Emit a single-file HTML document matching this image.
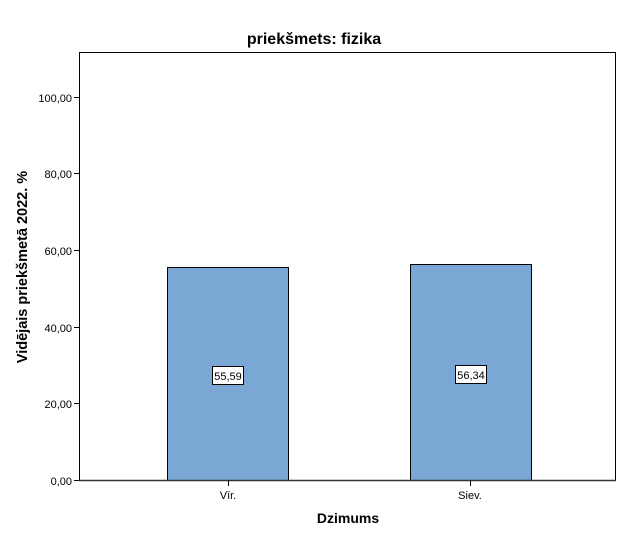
<!DOCTYPE html>
<html><head><style>body{margin:0;background:#fff}svg{display:block}</style></head><body>
<svg width="625" height="540" xmlns="http://www.w3.org/2000/svg" font-family="Liberation Sans, sans-serif">
<rect x="0" y="0" width="625" height="540" fill="#fff"/>
<text x="314" y="44" font-size="16" font-weight="bold" text-anchor="middle">priekšmets: fizika</text>
<rect x="79.5" y="52.5" width="536" height="428" fill="none" stroke="#000" stroke-width="1"/>
<g stroke="#000">
<line x1="74" y1="480.5" x2="79" y2="480.5"/>
<line x1="74" y1="403.5" x2="79" y2="403.5"/>
<line x1="74" y1="327.5" x2="79" y2="327.5"/>
<line x1="74" y1="250.5" x2="79" y2="250.5"/>
<line x1="74" y1="173.5" x2="79" y2="173.5"/>
<line x1="74" y1="97.5" x2="79" y2="97.5"/>
</g>
<g font-size="11" text-anchor="end">
<text x="72" y="485">0,00</text>
<text x="72" y="408">20,00</text>
<text x="72" y="332">40,00</text>
<text x="72" y="255">60,00</text>
<text x="72" y="178">80,00</text>
<text x="72" y="102">100,00</text>
</g>
<rect x="167.5" y="267.5" width="121" height="213" fill="#7ba7d4" stroke="#000"/>
<rect x="410.5" y="264.5" width="121" height="216" fill="#7ba7d4" stroke="#000"/>
<line x1="79" y1="480.5" x2="616" y2="480.5" stroke="#333" stroke-width="1.5"/>
<line x1="228.5" y1="481" x2="228.5" y2="486" stroke="#000"/>
<line x1="470.5" y1="481" x2="470.5" y2="486" stroke="#000"/>
<text x="228" y="499" font-size="11" text-anchor="middle">Vīr.</text>
<text x="470" y="499" font-size="11" text-anchor="middle">Siev.</text>
<rect x="212.5" y="366.5" width="31" height="18" fill="#fff" stroke="#000"/>
<text x="228" y="380" font-size="11" text-anchor="middle">55,59</text>
<rect x="455.5" y="365.5" width="31" height="18" fill="#fff" stroke="#000"/>
<text x="471" y="379" font-size="11" text-anchor="middle">56,34</text>
<text x="348" y="523" font-size="14" font-weight="bold" text-anchor="middle">Dzimums</text>
<text transform="translate(27,267) rotate(-90)" font-size="14.5" font-weight="bold" text-anchor="middle">Vidējais priekšmetā 2022. %</text>
</svg>
</body></html>
